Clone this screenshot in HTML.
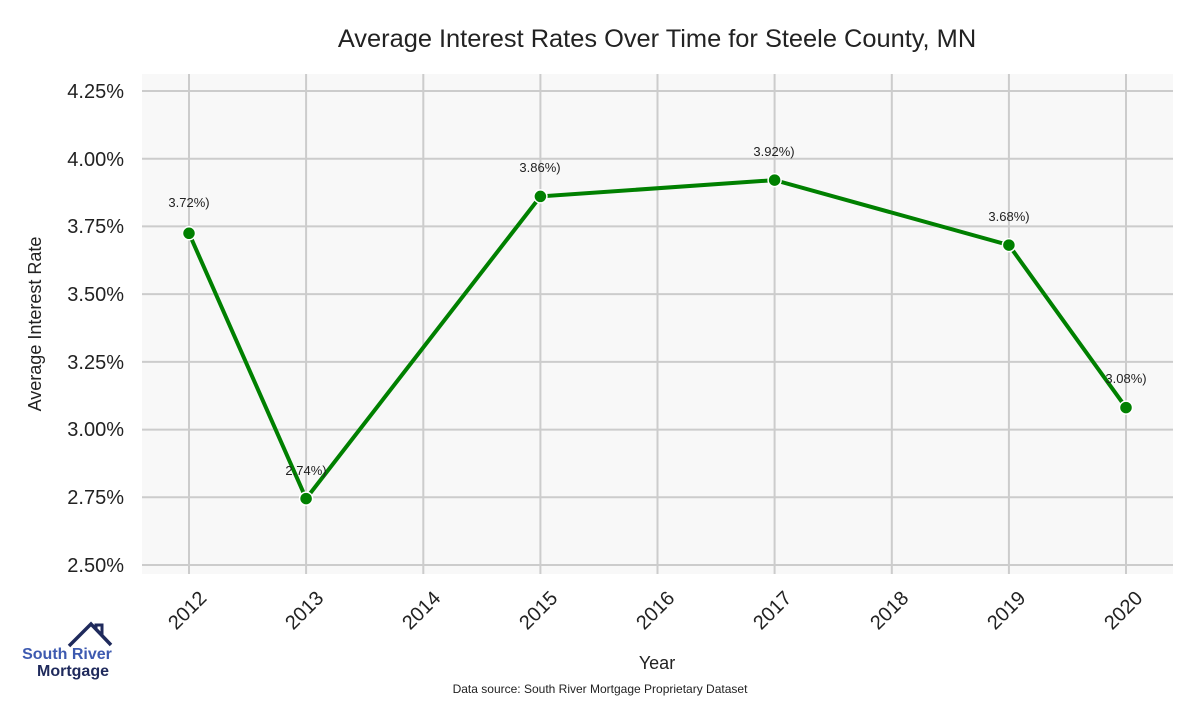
<!DOCTYPE html>
<html><head><style>
body{margin:0;background:#fff;width:1200px;height:700px;overflow:hidden;font-family:"Liberation Sans",sans-serif}
</style></head><body>
<svg width="1200" height="700" xmlns="http://www.w3.org/2000/svg" font-family="Liberation Sans, sans-serif">
<rect x="142" y="74" width="1031" height="500" fill="#f8f8f8"/>
<g stroke="#cccccc" stroke-width="2">
<line x1="142" x2="1173" y1="91" y2="91"/><line x1="142" x2="1173" y1="158.7" y2="158.7"/>
<line x1="142" x2="1173" y1="226.4" y2="226.4"/><line x1="142" x2="1173" y1="294.1" y2="294.1"/>
<line x1="142" x2="1173" y1="361.9" y2="361.9"/><line x1="142" x2="1173" y1="429.6" y2="429.6"/>
<line x1="142" x2="1173" y1="497.3" y2="497.3"/><line x1="142" x2="1173" y1="565" y2="565"/>
<line y1="74" y2="574" x1="189" x2="189"/><line y1="74" y2="574" x1="306.1" x2="306.1"/>
<line y1="74" y2="574" x1="423.3" x2="423.3"/><line y1="74" y2="574" x1="540.4" x2="540.4"/>
<line y1="74" y2="574" x1="657.5" x2="657.5"/><line y1="74" y2="574" x1="774.6" x2="774.6"/>
<line y1="74" y2="574" x1="891.8" x2="891.8"/><line y1="74" y2="574" x1="1008.9" x2="1008.9"/>
<line y1="74" y2="574" x1="1126" x2="1126"/>
</g>
<g font-size="20" fill="#222" text-anchor="end">
<text x="124" y="98">4.25%</text><text x="124" y="166">4.00%</text><text x="124" y="233">3.75%</text>
<text x="124" y="301">3.50%</text><text x="124" y="369">3.25%</text><text x="124" y="436">3.00%</text>
<text x="124" y="504">2.75%</text><text x="124" y="572">2.50%</text>
</g>
<g font-size="20" fill="#222" text-anchor="middle">
<text transform="translate(192,615) rotate(-45)">2012</text>
<text transform="translate(309,615) rotate(-45)">2013</text>
<text transform="translate(426,615) rotate(-45)">2014</text>
<text transform="translate(543,615) rotate(-45)">2015</text>
<text transform="translate(660,615) rotate(-45)">2016</text>
<text transform="translate(777,615) rotate(-45)">2017</text>
<text transform="translate(894,615) rotate(-45)">2018</text>
<text transform="translate(1011,615) rotate(-45)">2019</text>
<text transform="translate(1128,615) rotate(-45)">2020</text>
</g>
<polyline fill="none" stroke="#008000" stroke-width="4" points="189,233.3 306.1,498.6 540.4,196.4 774.6,180.1 1008.9,245.1 1126,407.6"/>
<g fill="#008000" stroke="#fff" stroke-width="1.5">
<circle cx="189" cy="233.3" r="6.5"/><circle cx="306.1" cy="498.6" r="6.5"/><circle cx="540.4" cy="196.4" r="6.5"/>
<circle cx="774.6" cy="180.1" r="6.5"/><circle cx="1008.9" cy="245.1" r="6.5"/><circle cx="1126" cy="407.6" r="6.5"/>
</g>
<g font-size="13" fill="#222" text-anchor="middle">
<text x="189" y="207">3.72%)</text><text x="306" y="475">2.74%)</text><text x="540" y="172">3.86%)</text>
<text x="774" y="156">3.92%)</text><text x="1009" y="221">3.68%)</text><text x="1126" y="383">3.08%)</text>
</g>
<text x="657" y="47" font-size="25.4" fill="#222" text-anchor="middle">Average Interest Rates Over Time for Steele County, MN</text>
<text x="657" y="669" font-size="18" fill="#222" text-anchor="middle">Year</text>
<text transform="translate(41,324) rotate(-90)" font-size="18" fill="#222" text-anchor="middle">Average Interest Rate</text>
<text x="600" y="693" font-size="12" fill="#222" text-anchor="middle">Data source: South River Mortgage Proprietary Dataset</text>
<polyline points="69,646 91,624 111,645" fill="none" stroke="#1f2a5c" stroke-width="3.5"/>
<polyline points="96,629 96,625 102,625 102,636" fill="none" stroke="#1f2a5c" stroke-width="3"/>
<text x="67" y="659" font-size="16" font-weight="bold" fill="#3d5ab0" text-anchor="middle">South River</text>
<text x="73" y="676" font-size="16" font-weight="bold" fill="#1f2a5c" text-anchor="middle">Mortgage</text>
</svg>
</body></html>
